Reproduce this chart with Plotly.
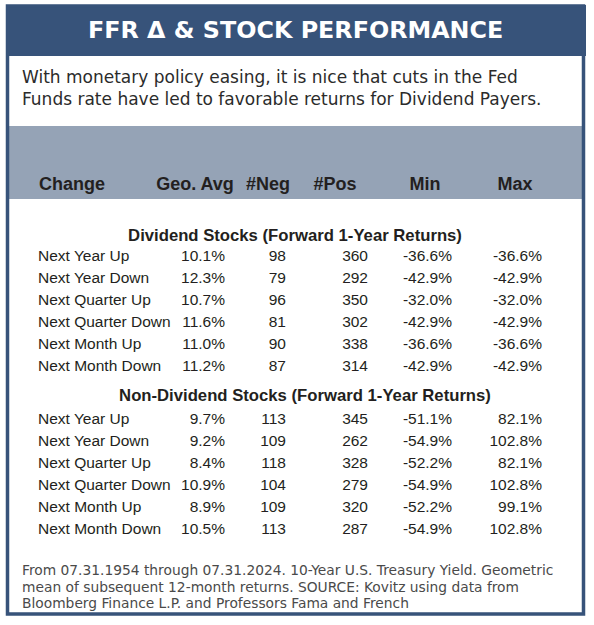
import plotly.graph_objects as go

# ---------------- data ----------------
title = "FFR Δ & STOCK PERFORMANCE"
intro = ["With monetary policy easing, it is nice that cuts in the Fed",
         "Funds rate have led to favorable returns for Dividend Payers."]
columns = ["Change", "Geo. Avg", "#Neg", "#Pos", "Min", "Max"]
changes = ["Next Year Up", "Next Year Down", "Next Quarter Up",
           "Next Quarter Down", "Next Month Up", "Next Month Down"]

div_title = "Dividend Stocks (Forward 1-Year Returns)"
div_geo = [10.1, 12.3, 10.7, 11.6, 11.0, 11.2]
div_neg = [98, 79, 96, 81, 90, 87]
div_pos = [360, 292, 350, 302, 338, 314]
div_min = [-36.6, -42.9, -32.0, -42.9, -36.6, -42.9]
div_max = [-36.6, -42.9, -32.0, -42.9, -36.6, -42.9]

non_title = "Non-Dividend Stocks (Forward 1-Year Returns)"
non_geo = [9.7, 9.2, 8.4, 10.9, 8.9, 10.5]
non_neg = [113, 109, 118, 104, 109, 113]
non_pos = [345, 262, 328, 279, 320, 287]
non_min = [-51.1, -54.9, -52.2, -54.9, -52.2, -54.9]
non_max = [82.1, 102.8, 82.1, 102.8, 99.1, 102.8]

footnote = ["From 07.31.1954 through 07.31.2024. 10-Year U.S. Treasury Yield. Geometric",
            "mean of subsequent 12-month returns. SOURCE: Kovitz using data from",
            "Bloomberg Finance L.P. and Professors Fama and French"]

# ---------------- style ----------------
W, H = 594, 625
NAVY = "#37537a"
GREY = "#95a3b6"
TXT = "#231f20"
BODY_FONT = "Liberation Sans"
HEAD_FONT = "Liberation Sans"
ROW_SIZE = 15.5

fig = go.Figure()

shapes = [
    dict(type="rect", x0=6, x1=586, y0=5, y1=56, fillcolor=NAVY, line_width=0,
         layer="below"),
    dict(type="rect", x0=9, x1=582, y0=126, y1=199, fillcolor=GREY, line_width=0,
         layer="below"),
    dict(type="rect", x0=7.5, x1=583.5, y0=6, y1=614, fillcolor="rgba(0,0,0,0)",
         line=dict(color=NAVY, width=3.5), layer="below"),
]

col_x = [38, 225, 286, 368, 452, 542]
head_x = [72, 195, 268, 335, 425, 515]

def pct(v):
    return f"{v:.1f}%"

def add_block(top, names, geo, neg, pos, mn, mx):
    ys = [top + 22 * i for i in range(len(names))]
    cols = [names, [pct(v) for v in geo], [str(v) for v in neg],
            [str(v) for v in pos], [pct(v) for v in mn], [pct(v) for v in mx]]
    for j, vals in enumerate(cols):
        fig.add_trace(go.Scatter(
            x=[col_x[j]] * len(vals), y=ys, text=vals, mode="text",
            textposition="middle right" if j == 0 else "middle left",
            textfont=dict(family=BODY_FONT, size=ROW_SIZE, color=TXT),
            hoverinfo="skip", showlegend=False))

fig.add_trace(go.Scatter(
    x=head_x, y=[185] * len(columns), text=columns, mode="text",
    textposition="middle center",
    textfont=dict(family=HEAD_FONT, size=18, color=TXT, weight="bold"),
    hoverinfo="skip", showlegend=False))

fig.add_trace(go.Scatter(
    x=[295, 305], y=[237, 397], text=[div_title, non_title], mode="text",
    textposition="middle center",
    textfont=dict(family=HEAD_FONT, size=16.7, color=TXT, weight="bold"),
    hoverinfo="skip", showlegend=False))

add_block(257, changes, div_geo, div_neg, div_pos, div_min, div_max)
add_block(420, changes, non_geo, non_neg, non_pos, non_min, non_max)

annotations = [
    dict(x=295, y=30, text=f"<b>{title}</b>", showarrow=False, xanchor="center",
         yanchor="middle", font=dict(family="DejaVu Sans", size=23.8, color="white")),
]
for i, line in enumerate(intro):
    annotations.append(dict(x=20, y=77 + 22 * i, text=line, showarrow=False,
                            xanchor="left", yanchor="middle",
                            font=dict(family="DejaVu Sans", size=17, color="#2b2b2b")))
for i, line in enumerate(footnote):
    annotations.append(dict(x=20, y=570 + 16.5 * i, text=line, showarrow=False,
                            xanchor="left", yanchor="middle",
                            font=dict(family="DejaVu Sans", size=13.8, color="#4a4a4a")))

fig.update_layout(
    width=W, height=H, margin=dict(l=0, r=0, t=0, b=0),
    paper_bgcolor="white", plot_bgcolor="white",
    xaxis=dict(range=[0, W], visible=False, fixedrange=True),
    yaxis=dict(range=[H, 0], visible=False, fixedrange=True),
    shapes=shapes, annotations=annotations,
)

fig.write_html("out.html", config={"displayModeBar": False, "staticPlot": True},
               post_script="document.body.style.margin='0px';document.body.style.overflow='hidden';")
